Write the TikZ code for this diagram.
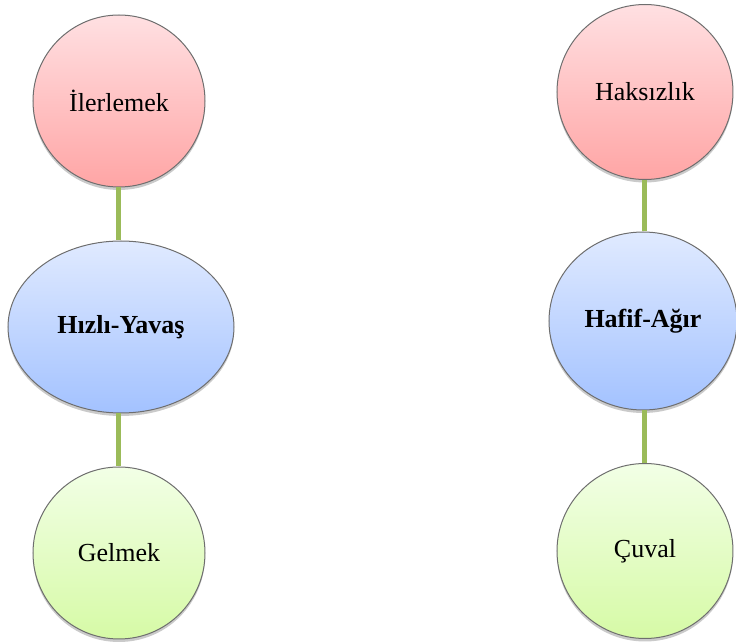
\documentclass[tikz,border=0pt]{standalone}
\usepackage{fontspec}
\setmainfont{Liberation Serif}
\usetikzlibrary{shapes.geometric,shadows}
\definecolor{redtop}{HTML}{FFE0E2}
\definecolor{redbot}{HTML}{FFA5A5}
\definecolor{bluetop}{HTML}{E0EAFF}
\definecolor{bluebot}{HTML}{A3C2FF}
\definecolor{greentop}{HTML}{F2FFE6}
\definecolor{greenbot}{HTML}{D6FAA6}
\definecolor{linkgreen}{HTML}{9BBB59}
\definecolor{rim}{HTML}{6E6E6E}
\tikzset{
  bubble/.style={ellipse, draw=rim, line width=0.5pt, inner sep=0pt,
    font=\fontsize{13}{15}\selectfont, align=center,
    drop shadow={shadow xshift=0pt, shadow yshift=-1.5pt, opacity=0.35, fill=black!60}},
  redb/.style={bubble, top color=redtop, bottom color=redbot},
  blueb/.style={bubble, top color=bluetop, bottom color=bluebot, font=\fontsize{13}{15}\selectfont\bfseries},
  greenb/.style={bubble, top color=greentop, bottom color=greenbot},
  link/.style={draw=linkgreen, line width=2.5pt}
}
\begin{document}
\begin{tikzpicture}[x=0.5pt,y=-0.5pt]
\useasboundingbox (0,0) rectangle (736,642);
% left column
\node[redb, minimum width=86pt, minimum height=86pt] (lt) at (119,101) {İlerlemek};
\node[blueb, minimum width=113pt, minimum height=86pt] (lm) at (121,327) {Hızlı-Yavaş};
\node[greenb, minimum width=86pt, minimum height=86pt] (lb) at (119,553) {Gelmek};
% right column
\node[redb, minimum width=88pt, minimum height=87.5pt] (rt) at (645,92) {Haksızlık};
\node[blueb, minimum width=94pt, minimum height=89pt] (rm) at (643,321) {Hafif-Ağır};
\node[greenb, minimum width=88pt, minimum height=87.5pt] (rb) at (645,551) {Çuval};
% connectors
\path[link] (lt.south) -- (lt.south |- lm.north);
\path[link] (lt.south |- lm.south) -- (lt.south |- lb.north);
\path[link] (rt.south) -- (rt.south |- rm.north);
\path[link] (rt.south |- rm.south) -- (rt.south |- rb.north);
\end{tikzpicture}
\end{document}
